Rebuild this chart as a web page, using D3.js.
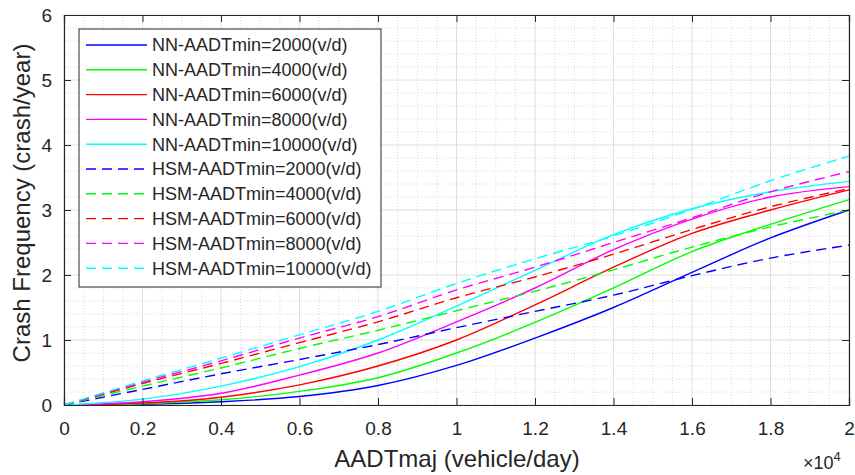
<!doctype html>
<html>
<head>
<meta charset="utf-8">
<script src="https://cdn.jsdelivr.net/npm/d3@7"></script>
<style>
  body { margin: 0; background: #fff; }
  svg text { font-family: "Liberation Sans", Arial, Helvetica, sans-serif; fill: #262626; }
</style>
</head>
<body>
<svg id="chart" width="855" height="475"></svg>
<script>
  // major road AADT (vehicle/day)
  var aadtMaj = [0, 2000, 4000, 6000, 8000, 10000, 12000, 14000, 16000, 18000, 20000];

  // neural network predictions, one array per minor road AADT
  var nn2000  = [0, 0.01, 0.05, 0.13, 0.30, 0.61, 1.03, 1.50, 2.04, 2.57, 3.00];
  var nn4000  = [0, 0.02, 0.08, 0.21, 0.42, 0.80, 1.27, 1.80, 2.36, 2.78, 3.16];
  var nn6000  = [0, 0.03, 0.12, 0.31, 0.60, 1.00, 1.54, 2.12, 2.64, 3.00, 3.31];
  var nn8000  = [0, 0.05, 0.18, 0.46, 0.80, 1.28, 1.80, 2.39, 2.86, 3.20, 3.36];
  var nn10000 = [0, 0.09, 0.29, 0.59, 1.00, 1.52, 2.07, 2.62, 3.02, 3.28, 3.44];

  // HSM predictions
  var hsm2000  = [0, 0.24, 0.48, 0.70, 0.93, 1.19, 1.44, 1.69, 1.99, 2.26, 2.46];
  var hsm4000  = [0, 0.29, 0.57, 0.87, 1.15, 1.45, 1.75, 2.08, 2.43, 2.74, 3.00];
  var hsm6000  = [0, 0.33, 0.64, 0.96, 1.28, 1.65, 1.97, 2.32, 2.70, 3.05, 3.33];
  var hsm8000  = [0, 0.35, 0.68, 1.03, 1.36, 1.77, 2.12, 2.50, 2.88, 3.28, 3.59];
  var hsm10000 = [0, 0.37, 0.72, 1.08, 1.44, 1.87, 2.25, 2.60, 3.01, 3.45, 3.83];

  var minorLabels = ['AADTmin=2000(v/d)', 'AADTmin=4000(v/d)', 'AADTmin=6000(v/d)',
                     'AADTmin=8000(v/d)', 'AADTmin=10000(v/d)'];
  var colors = ['#0000ff', '#00ff00', '#ff0000', '#ff00ff', '#00ffff'];

  var xTicks = [0, 2000, 4000, 6000, 8000, 10000, 12000, 14000, 16000, 18000, 20000];
  var yTicks = [0, 1, 2, 3, 4, 5, 6];

  var series = [];
  [nn2000, nn4000, nn6000, nn8000, nn10000].forEach(function (v, i) {
    series.push({ name: 'NN-' + minorLabels[i], color: colors[i], dashed: false, values: v });
  });
  [hsm2000, hsm4000, hsm6000, hsm8000, hsm10000].forEach(function (v, i) {
    series.push({ name: 'HSM-' + minorLabels[i], color: colors[i], dashed: true, values: v });
  });

  var svg = d3.select('#chart');
  var x = d3.scaleLinear().domain([0, 20000]).range([64, 849]);
  var y = d3.scaleLinear().domain([0, 6]).range([405, 15]);

  // minor grid (dotted)
  var grid = svg.append('g');
  grid.selectAll('line.mx').data(d3.range(0, 20001, 500).filter(function (d) { return d % 2000; }))
    .enter().append('line')
    .attr('x1', function (d) { return x(d); }).attr('x2', function (d) { return x(d); })
    .attr('y1', y(0)).attr('y2', y(6))
    .attr('stroke', '#cfcfcf').attr('stroke-width', 0.8).attr('stroke-dasharray', '1,2');
  grid.selectAll('line.my').data(d3.range(0, 30).map(function (i) { return i * 0.2; }).filter(function (d, i) { return i % 5; }))
    .enter().append('line')
    .attr('x1', x(0)).attr('x2', x(20000))
    .attr('y1', function (d) { return y(d); }).attr('y2', function (d) { return y(d); })
    .attr('stroke', '#cfcfcf').attr('stroke-width', 0.8).attr('stroke-dasharray', '1,2');

  // major grid
  grid.selectAll('line.gx').data(xTicks).enter().append('line')
    .attr('x1', function (d) { return x(d); }).attr('x2', function (d) { return x(d); })
    .attr('y1', y(0)).attr('y2', y(6))
    .attr('stroke', '#dedede').attr('stroke-width', 1);
  grid.selectAll('line.gy').data(yTicks).enter().append('line')
    .attr('x1', x(0)).attr('x2', x(20000))
    .attr('y1', function (d) { return y(d); }).attr('y2', function (d) { return y(d); })
    .attr('stroke', '#dedede').attr('stroke-width', 1);

  // curves
  var line = d3.line()
    .x(function (d, i) { return x(aadtMaj[i]); })
    .y(function (d) { return y(d); })
    .curve(d3.curveCatmullRom.alpha(0.5));

  svg.append('g').selectAll('path').data(series).enter().append('path')
    .attr('d', function (d) { return line(d.values); })
    .attr('fill', 'none')
    .attr('stroke', function (d) { return d.color; })
    .attr('stroke-width', 1.4)
    .attr('stroke-dasharray', function (d) { return d.dashed ? '10,6' : null; });

  // axes with inward ticks
  var fmt = function (d) { return String(+(d / 10000).toFixed(1)); };
  var axes = svg.append('g');

  axes.append('g').attr('transform', 'translate(0,' + y(0) + ')')
    .call(d3.axisBottom(x).tickValues(xTicks).tickFormat(fmt).tickSize(-7).tickPadding(17));
  axes.append('g').attr('transform', 'translate(0,' + y(6) + ')')
    .call(d3.axisTop(x).tickValues(xTicks).tickFormat('').tickSize(-7));
  axes.append('g').attr('transform', 'translate(' + x(0) + ',0)')
    .call(d3.axisLeft(y).tickValues(yTicks).tickFormat(d3.format('d')).tickSize(-7).tickPadding(12));
  axes.append('g').attr('transform', 'translate(' + x(20000) + ',0)')
    .call(d3.axisRight(y).tickValues(yTicks).tickFormat('').tickSize(-7));

  axes.selectAll('.domain').attr('stroke', '#262626').attr('stroke-width', 1.2);
  axes.selectAll('.tick line').attr('stroke', '#262626');
  axes.selectAll('.tick text').attr('fill', '#262626')
    .style('font-family', '"Liberation Sans", Arial, sans-serif').attr('font-size', 19);

  // axis titles
  svg.append('text').attr('x', 457).attr('y', 467).attr('text-anchor', 'middle')
    .attr('font-size', 24).text('AADTmaj (vehicle/day)');
  svg.append('text').attr('transform', 'translate(30,203) rotate(-90)')
    .attr('text-anchor', 'middle').attr('font-size', 24).text('Crash Frequency (crash/year)');
  var exp = svg.append('text').attr('x', 803).attr('y', 469).attr('font-size', 18);
  exp.append('tspan').text('\u00d710');
  exp.append('tspan').attr('dy', -8).attr('font-size', 13).text('4');

  // legend
  var legend = svg.append('g');
  legend.append('rect').attr('x', 79).attr('y', 29).attr('width', 302).attr('height', 258)
    .attr('fill', '#fff').attr('stroke', '#262626').attr('stroke-width', 1);
  var rows = legend.selectAll('g.row').data(series).enter().append('g')
    .attr('transform', function (d, i) { return 'translate(0,' + (45 + i * 24.8) + ')'; });
  rows.append('line').attr('x1', 86).attr('x2', 147).attr('y1', 0).attr('y2', 0)
    .attr('stroke', function (d) { return d.color; }).attr('stroke-width', 1.4)
    .attr('stroke-dasharray', function (d) { return d.dashed ? '10,6' : null; });
  rows.append('text').attr('x', 152).attr('y', 0).attr('dy', '0.35em')
    .attr('font-size', 18).text(function (d) { return d.name; });
</script>
</body>
</html>
